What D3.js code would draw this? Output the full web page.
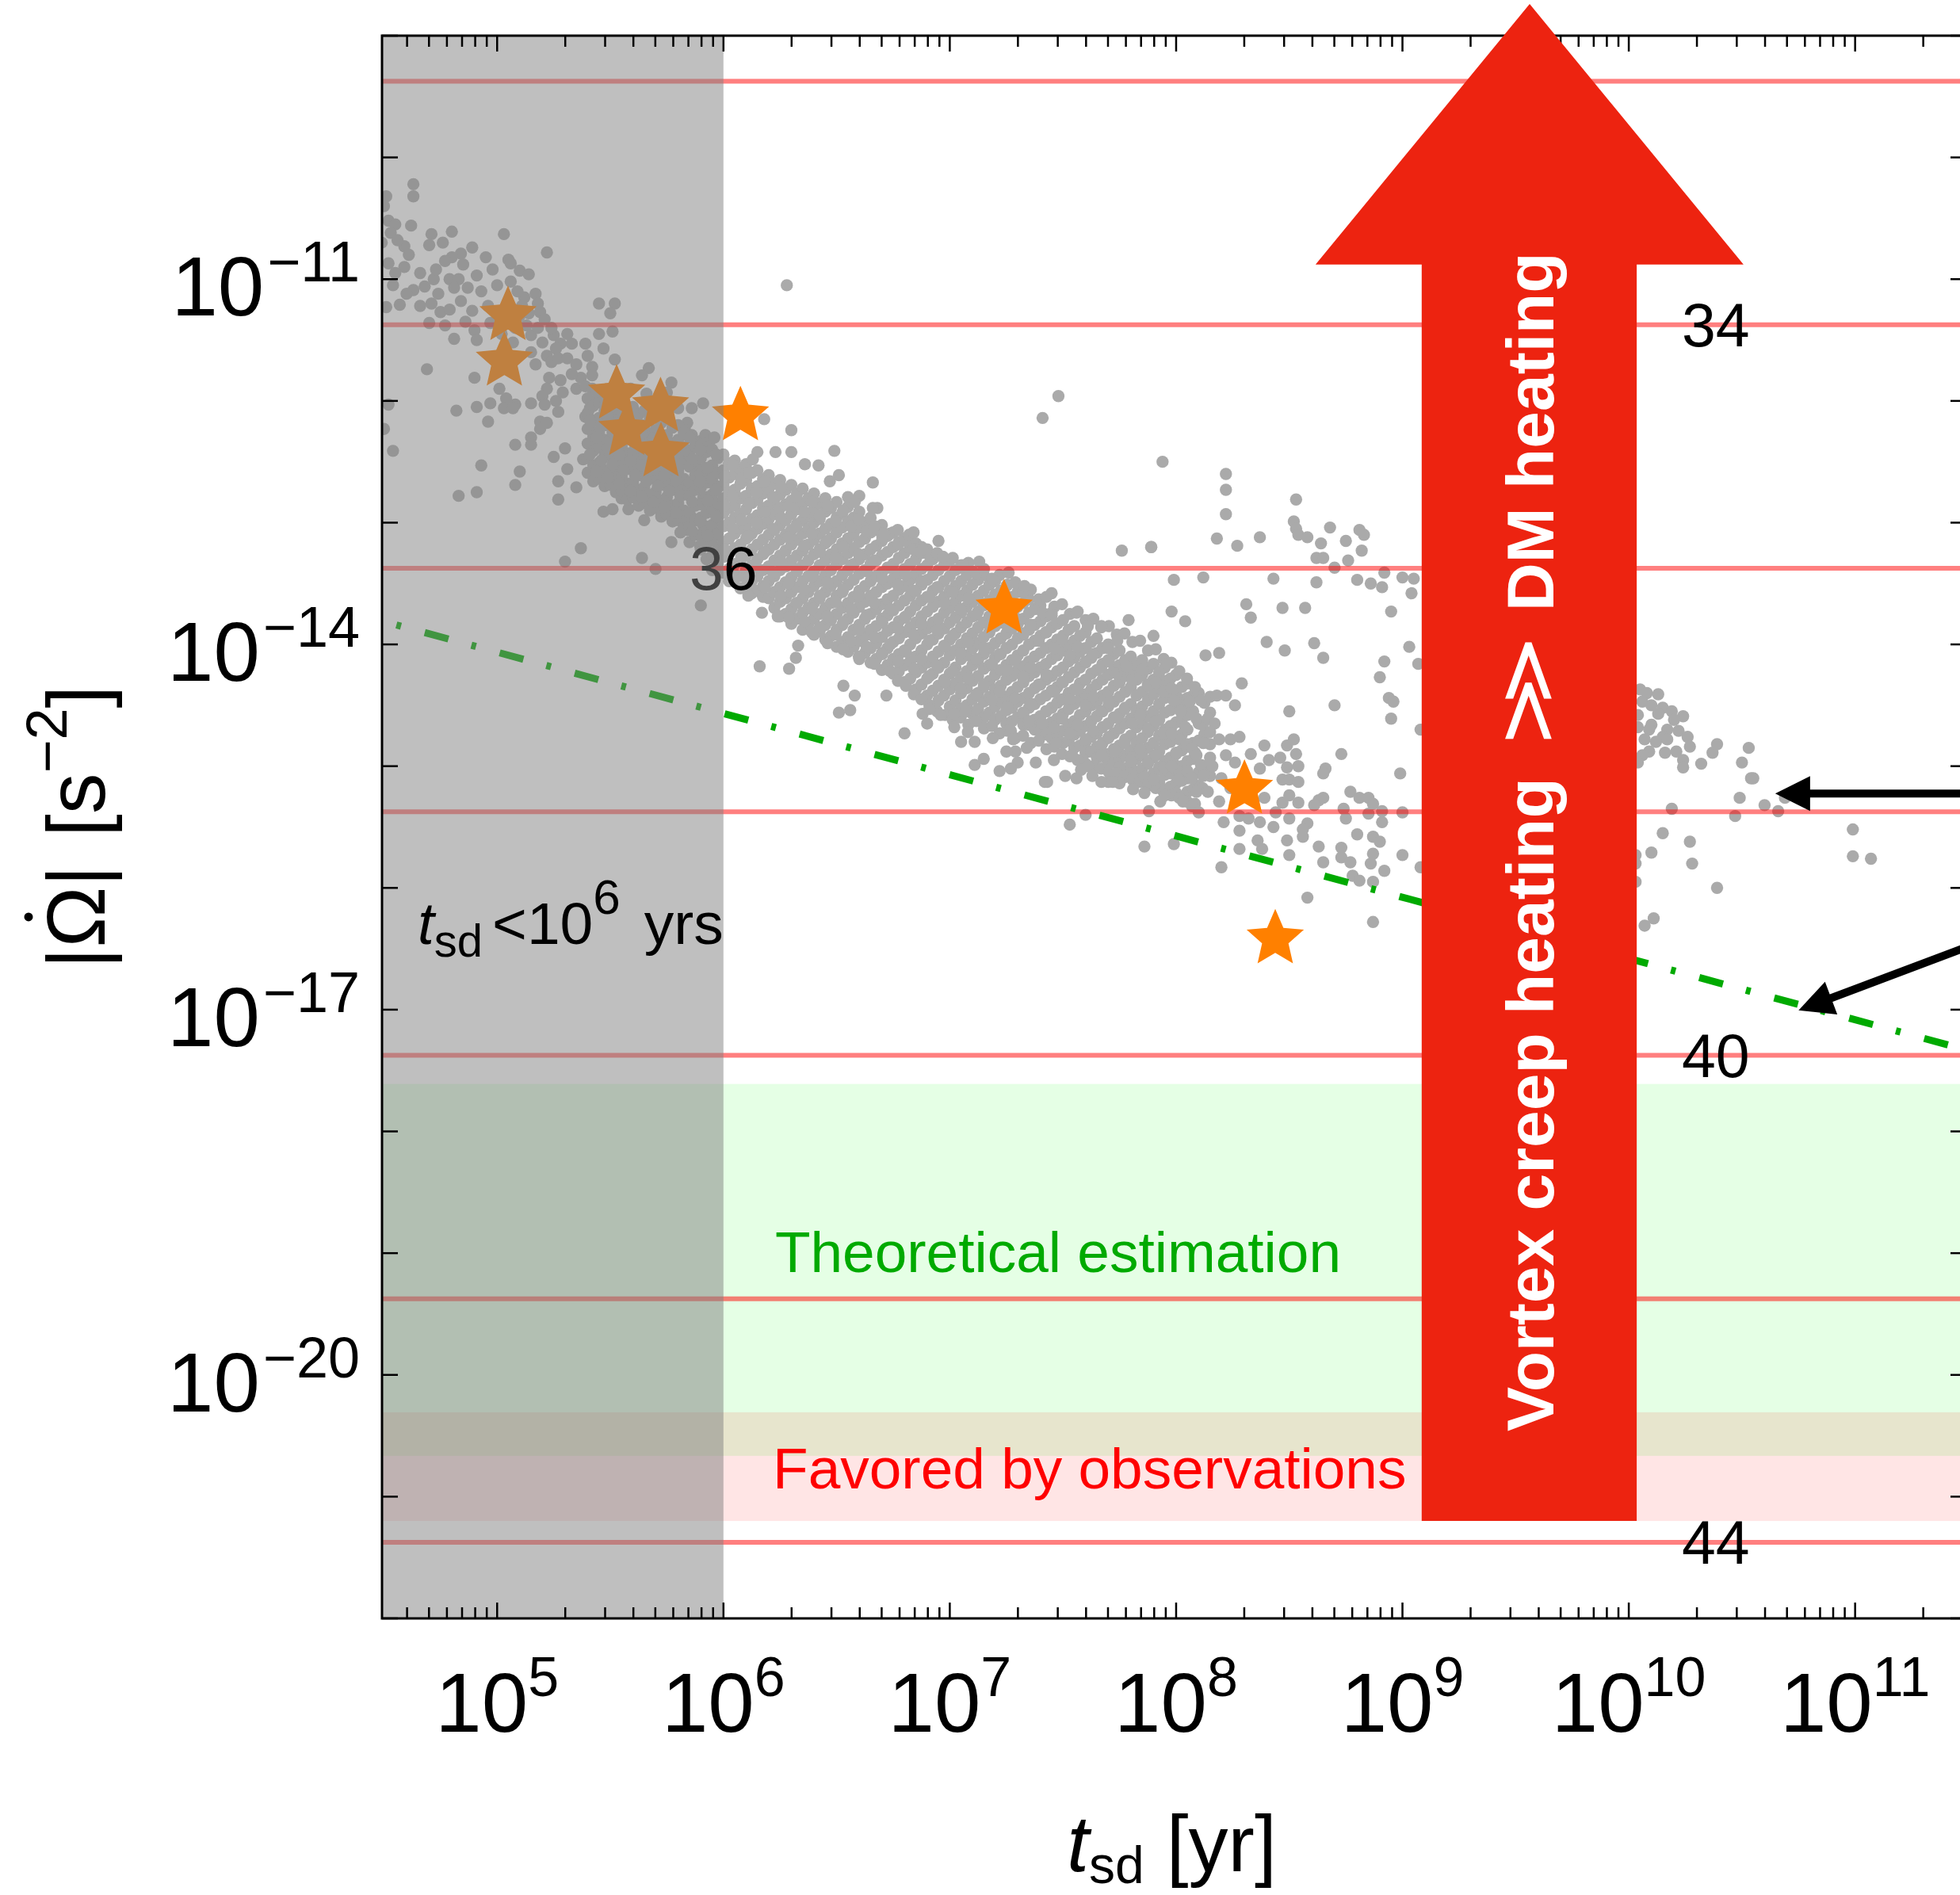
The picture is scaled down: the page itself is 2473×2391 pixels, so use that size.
<!DOCTYPE html>
<html><head><meta charset="utf-8">
<script src="https://cdn.jsdelivr.net/npm/d3@7"></script>
<style>html,body{margin:0;padding:0;background:#fff;}svg{display:block;font-family:"Liberation Sans",Arial,Helvetica,sans-serif;}</style>
</head><body>
<svg id="c" width="2473" height="2391"></svg>
<script>
// ===== DATA (log10 values: [log10 t_sd(yr), log10 |Omega-dot| (s^-2)]) =====
const xDomainLog=[4.4914,11.4914];
const yDomainLog=[-22,-9];
const xMajorExp=[5,6,7,8,9,10,11];
const yMajorExp=[-22,-21,-20,-19,-18,-17,-16,-15,-14,-13,-12,-11,-10,-9];
const yLabelExp=[-20,-17,-14,-11];
const lineLevelLog=[-9.375,-11.375,-13.375,-15.375,-17.375,-19.375,-21.375];
const lineLabelText=["34","36","40","44"];
const lineLabelLevelIdx=[1,2,4,6];
const lineLabelLogT=[10.384,6.0,10.384,10.384];
const greenBandLog=[-20.665,-17.61];
const pinkBandLog=[-21.20,-20.307];
const shadeMaxLogT=6;
const greenLineLog=[[4.555,-13.84],[11.6,-17.385]];
const starsLog=[[5.048,-11.30],[5.032,-11.674],[5.528,-11.944],[5.573,-12.243],[5.722,-12.048],[5.724,-12.419],[6.075,-12.123],[7.24,-13.71],[8.302,-15.19],[8.438,-16.42]];
const bigArrowLog={shaftL:9.085,shaftR:10.035,headL:8.616,headR:10.507,tipT:9.562,tipO:-8.74,baseO:-10.88,bottomO:-21.20};
const blackArrowsLog=[{tail:[11.9,-15.225],tip:[10.647,-15.225]},{tail:[11.9,-16.20],tip:[10.75,-17.006]}];

const leftPts=[[4.63,-10.22],[4.63,-10.32],[4.51,-10.32],[4.50,-10.40],[4.52,-10.52],[4.55,-10.55],[4.62,-10.56],[4.71,-10.63],[4.80,-10.61],[5.03,-10.63],[5.22,-10.78],[4.70,-10.72],[4.59,-10.73],[4.61,-10.80],[4.89,-10.74],[4.84,-10.79],[4.80,-10.82],[4.77,-10.85],[4.95,-10.82],[5.05,-10.84],[5.06,-10.87],[4.98,-10.92],[5.10,-10.93],[5.14,-10.96],[4.52,-10.87],[4.59,-10.90],[4.72,-11.00],[4.79,-11.00],[4.83,-11.00],[4.81,-11.07],[4.91,-10.97],[5.06,-11.02],[5.17,-11.12],[5.18,-11.20],[5.19,-11.27],[4.63,-11.09],[4.71,-11.20],[4.84,-11.18],[4.75,-11.27],[4.79,-11.25],[4.51,-11.23],[4.57,-11.21],[4.70,-11.36],[4.77,-11.38],[4.81,-11.49],[4.90,-11.42],[4.91,-11.50],[4.97,-11.36],[5.13,-11.38],[5.15,-11.46],[5.18,-11.40],[5.25,-11.46],[5.28,-11.53],[5.31,-11.45],[5.33,-11.53],[5.39,-11.53],[5.45,-11.20],[5.52,-11.20],[5.50,-11.28],[5.45,-11.45],[5.51,-11.43],[5.47,-11.57],[5.52,-11.66],[5.26,-11.57],[5.22,-11.63],[5.15,-11.60],[5.17,-11.70],[5.24,-11.68],[5.27,-11.65],[5.31,-11.65],[5.35,-11.70],[5.40,-11.63],[5.42,-11.72],[5.42,-11.79],[5.37,-11.81],[5.33,-11.78],[5.28,-11.83],[5.23,-11.81],[5.22,-11.90],[5.20,-11.96],[5.15,-12.02],[5.21,-12.03],[5.26,-12.00],[5.29,-11.93],[5.35,-11.90],[5.39,-11.88],[5.43,-12.00],[5.47,-12.03],[5.41,-12.06],[5.39,-12.13],[5.27,-12.09],[5.19,-12.17],[5.19,-12.23],[5.22,-12.18],[5.08,-12.03],[5.04,-11.98],[5.03,-12.06],[5.01,-11.90],[4.97,-12.02],[4.91,-12.05],[4.90,-11.81],[4.96,-12.17],[5.07,-12.06],[4.82,-12.08],[4.69,-11.74],[4.52,-12.03],[4.50,-12.23],[4.54,-12.41],[4.93,-12.53],[4.83,-12.78],[4.91,-12.75],[5.08,-12.69],[5.08,-12.36],[5.15,-12.30],[5.15,-12.36],[5.10,-12.58],[5.27,-12.81],[5.27,-12.66],[5.30,-12.39],[5.25,-12.46],[5.31,-12.56],[5.35,-12.71],[5.37,-13.21],[5.30,-13.32],[5.38,-12.48],[5.41,-12.36],[5.41,-12.23],[5.44,-12.26],[5.44,-12.36],[5.48,-12.33],[5.48,-12.43],[5.47,-12.91],[5.51,-12.89],[5.55,-12.80],[5.58,-12.89],[5.53,-12.56],[5.57,-12.53],[5.62,-12.46],[5.65,-12.98],[5.64,-12.73],[5.65,-12.83],[5.71,-12.83],[5.64,-13.29],[5.70,-13.38],[5.77,-13.16],[5.90,-13.68],[5.84,-13.06],[5.86,-12.96],[5.91,-13.02],[5.91,-12.80],[5.88,-12.68],[5.84,-12.76],[5.80,-12.56],[5.77,-12.68],[5.77,-12.73],[5.88,-12.53],[5.93,-12.60],[5.96,-12.69],[5.95,-13.06],[5.98,-12.93],[5.90,-12.33],[5.86,-12.28],[5.92,-12.28],[5.94,-12.33],[5.96,-12.30],[5.91,-12.02],[5.86,-12.06],[5.84,-12.18],[5.77,-11.85],[5.67,-11.73],[5.64,-11.79],[5.59,-11.90],[5.66,-11.94],[5.75,-11.93],[5.80,-12.06],[5.83,-12.24],[5.69,-12.13],[5.64,-12.20],[5.60,-12.26],[5.56,-12.30],[5.55,-12.20],[5.51,-12.17],[5.52,-12.06],[5.46,-11.96],[5.42,-11.90],[4.53,-10.62],[4.56,-10.68],[4.49,-10.70],[4.55,-10.95],[4.54,-11.05],[4.60,-11.12],[4.66,-10.95],[4.68,-11.06],[4.74,-11.12],[4.66,-11.22],[4.73,-10.92],[4.76,-10.70],[4.85,-10.88],[4.87,-11.07],[4.93,-11.10],[4.89,-11.26],[4.96,-11.22],[5.00,-11.30],[4.86,-11.35],[5.02,-11.45],[5.07,-11.52],[5.10,-11.30],[5.12,-11.15],[5.00,-11.05],[5.09,-11.10],[5.11,-11.22],[5.14,-11.28],[5.21,-11.33],[5.24,-11.40],[5.08,-11.40],[5.20,-11.52]];

const fillCols=[[5.400,[-11.98,-12.10,-12.23,-12.35,-12.47,-12.59]],[5.425,[-12.04,-12.16,-12.29,-12.41,-12.53,-12.66]],[5.450,[-12.01,-12.14,-12.26,-12.38,-12.51,-12.64]],[5.475,[-11.98,-12.08,-12.20,-12.32,-12.45,-12.57,-12.70]],[5.500,[-11.95,-12.07,-12.19,-12.32,-12.44,-12.57,-12.69]],[5.525,[-12.01,-12.13,-12.25,-12.38,-12.50,-12.63,-12.75]],[5.550,[-12.00,-12.12,-12.24,-12.37,-12.49,-12.62,-12.74]],[5.575,[-12.06,-12.18,-12.31,-12.43,-12.56,-12.68,-12.81]],[5.600,[-12.05,-12.17,-12.29,-12.42,-12.54,-12.67,-12.79]],[5.625,[-12.11,-12.23,-12.36,-12.48,-12.61,-12.73,-12.86]],[5.650,[-12.08,-12.20,-12.33,-12.45,-12.58,-12.71,-12.84]],[5.675,[-12.14,-12.27,-12.39,-12.52,-12.64,-12.77,-12.90]],[5.700,[-12.12,-12.24,-12.37,-12.50,-12.62,-12.75,-12.88]],[5.725,[-12.18,-12.31,-12.43,-12.56,-12.69,-12.82,-12.95]],[5.750,[-12.15,-12.28,-12.41,-12.54,-12.66,-12.79,-12.93]],[5.775,[-12.22,-12.35,-12.47,-12.60,-12.73,-12.86,-12.99]],[5.800,[-12.20,-12.32,-12.45,-12.58,-12.71,-12.84,-12.98]],[5.825,[-12.26,-12.38,-12.51,-12.64,-12.77,-12.90,-13.04]],
[5.41,[-12.16,-12.44]],[5.44,[-11.92,-12.30,-12.58]],[5.46,[-12.20,-12.49]],[5.49,[-12.13,-12.39,-12.63]],[5.51,[-12.26,-12.52]],[5.54,[-12.18,-12.44,-12.68]],[5.56,[-12.31,-12.57]],[5.59,[-12.23,-12.49,-12.74]],[5.61,[-12.36,-12.61]],[5.64,[-12.27,-12.53,-12.79]],[5.66,[-12.40,-12.66]],[5.69,[-12.31,-12.57,-12.83]],[5.71,[-12.44,-12.70]],[5.74,[-12.35,-12.61,-12.87]],[5.76,[-12.48,-12.74]],[5.79,[-12.39,-12.65,-12.92]],[5.81,[-12.52,-12.78,-13.08]],[5.84,[-12.43,-12.69,-12.97]]];

const coreCols=[[5.85,[-12.30,-12.43,-12.54,-12.67,-12.78,-12.92,-13.03,-13.16]],[5.875,[-12.37,-12.49,-12.61,-12.73,-12.86,-12.98,-13.10]],[5.90,[-12.36,-12.47,-12.60,-12.71,-12.85,-12.96,-13.10,-13.22]],[5.925,[-12.42,-12.55,-12.67,-12.79,-12.92,-13.05,-13.18,-13.30]],[5.95,[-12.40,-12.53,-12.64,-12.77,-12.88,-13.02,-13.14,-13.27,-13.39]],[5.975,[-12.47,-12.59,-12.71,-12.84,-12.96,-13.09,-13.21,-13.34]],[6.00,[-12.44,-12.57,-12.69,-12.80,-12.92,-13.03,-13.16,-13.28,-13.41]],[6.025,[-12.51,-12.63,-12.75,-12.88,-13.00,-13.13,-13.25,-13.38,-13.48]],[6.05,[-12.49,-12.60,-12.73,-12.86,-12.96,-13.09,-13.21,-13.34,-13.46]],[6.075,[-12.56,-12.68,-12.80,-12.93,-13.05,-13.18,-13.31,-13.44,-13.54]],[6.10,[-12.52,-12.65,-12.78,-12.89,-13.02,-13.13,-13.27,-13.38,-13.52]],[6.125,[-12.59,-12.72,-12.84,-12.97,-13.09,-13.22,-13.35,-13.48,-13.58]],[6.15,[-12.57,-12.70,-12.81,-12.94,-13.05,-13.18,-13.30,-13.44,-13.56]],[6.175,[-12.64,-12.76,-12.88,-13.01,-13.14,-13.26,-13.39,-13.52,-13.61]],[6.20,[-12.61,-12.72,-12.86,-12.97,-13.10,-13.22,-13.36,-13.48,-13.62]],[6.225,[-12.68,-12.81,-12.93,-13.06,-13.18,-13.31,-13.44,-13.57,-13.70]],[6.25,[-12.65,-12.77,-12.88,-13.02,-13.14,-13.27,-13.39,-13.53,-13.65,-13.77]],[6.275,[-12.73,-12.85,-12.98,-13.10,-13.23,-13.36,-13.49,-13.62,-13.75]],[6.30,[-12.69,-12.82,-12.93,-13.06,-13.18,-13.31,-13.45,-13.57,-13.71,-13.83]],[6.325,[-12.76,-12.89,-13.01,-13.14,-13.27,-13.40,-13.53,-13.66,-13.79]],[6.35,[-12.72,-12.84,-12.98,-13.09,-13.23,-13.35,-13.48,-13.62,-13.74,-13.88]],[6.375,[-12.80,-12.93,-13.05,-13.18,-13.31,-13.44,-13.57,-13.70,-13.83]],[6.40,[-12.76,-12.89,-13.00,-13.14,-13.26,-13.40,-13.52,-13.66,-13.79,-13.92]],[6.425,[-12.84,-12.97,-13.09,-13.22,-13.35,-13.48,-13.62,-13.75,-13.89]],[6.45,[-12.80,-12.91,-13.05,-13.17,-13.31,-13.43,-13.57,-13.70,-13.84,-13.96]],[6.475,[-12.88,-13.01,-13.13,-13.26,-13.39,-13.52,-13.66,-13.80,-13.93]],[6.50,[-12.83,-12.96,-13.08,-13.22,-13.34,-13.48,-13.60,-13.75,-13.88,-14.02]],[6.525,[-12.92,-13.04,-13.17,-13.30,-13.43,-13.57,-13.70,-13.84,-13.98]],[6.55,[-12.87,-12.99,-13.13,-13.25,-13.39,-13.51,-13.66,-13.79,-13.94,-14.06]],[6.575,[-12.96,-13.09,-13.21,-13.34,-13.47,-13.61,-13.74,-13.88,-14.02]],[6.60,[-12.91,-13.04,-13.16,-13.30,-13.42,-13.56,-13.69,-13.84,-13.97,-14.12]],[6.625,[-13.00,-13.13,-13.26,-13.39,-13.52,-13.65,-13.79,-13.93,-14.07]],[6.65,[-12.96,-13.08,-13.22,-13.34,-13.48,-13.60,-13.75,-13.88,-14.03,-14.15]],[6.675,[-13.06,-13.19,-13.31,-13.44,-13.57,-13.71,-13.85,-13.99,-14.12]],[6.70,[-13.02,-13.15,-13.27,-13.41,-13.53,-13.67,-13.79,-13.94,-14.07,-14.21]],[6.725,[-13.11,-13.24,-13.37,-13.50,-13.63,-13.76,-13.89,-14.03,-14.17]],[6.75,[-13.08,-13.20,-13.34,-13.46,-13.60,-13.72,-13.86,-13.98,-14.12,-14.24]],[6.775,[-13.16,-13.29,-13.42,-13.55,-13.68,-13.81,-13.95,-14.08,-14.22]],[6.80,[-13.13,-13.25,-13.38,-13.52,-13.64,-13.78,-13.90,-14.05,-14.17,-14.31]],[6.825,[-13.21,-13.34,-13.47,-13.60,-13.73,-13.86,-14.00,-14.14,-14.28]],[6.85,[-13.17,-13.30,-13.42,-13.56,-13.68,-13.82,-13.95,-14.10,-14.23,-14.37]],[6.875,[-13.25,-13.38,-13.51,-13.64,-13.77,-13.91,-14.05,-14.19,-14.33]],[6.90,[-13.22,-13.35,-13.47,-13.61,-13.73,-13.87,-14.00,-14.15,-14.28,-14.42]],[6.925,[-13.30,-13.43,-13.56,-13.69,-13.82,-13.96,-14.10,-14.24,-14.38]],[6.95,[-13.27,-13.39,-13.53,-13.65,-13.79,-13.91,-14.06,-14.19,-14.34,-14.46]],[6.975,[-13.35,-13.48,-13.61,-13.74,-13.87,-14.01,-14.15,-14.29,-14.42]],[7.00,[-13.31,-13.44,-13.56,-13.70,-13.82,-13.96,-14.09,-14.24,-14.37,-14.51]],[7.025,[-13.39,-13.52,-13.65,-13.78,-13.91,-14.05,-14.19,-14.32,-14.46]],[7.05,[-13.35,-13.48,-13.60,-13.74,-13.86,-14.00,-14.12,-14.27,-14.40,-14.53]],[7.075,[-13.43,-13.56,-13.69,-13.82,-13.95,-14.09,-14.22,-14.36,-14.50]],[7.10,[-13.40,-13.51,-13.65,-13.77,-13.91,-14.03,-14.17,-14.30,-14.45,-14.57]],[7.125,[-13.47,-13.60,-13.73,-13.86,-13.99,-14.13,-14.26,-14.40,-14.53]],[7.15,[-13.43,-13.56,-13.68,-13.82,-13.94,-14.08,-14.20,-14.35,-14.47,-14.60]],[7.175,[-13.51,-13.64,-13.77,-13.90,-14.03,-14.17,-14.30,-14.43,-14.56]],[7.20,[-13.48,-13.59,-13.73,-13.85,-13.99,-14.11,-14.25,-14.37,-14.51,-14.62]],[7.225,[-13.56,-13.69,-13.82,-13.95,-14.08,-14.21,-14.34,-14.47,-14.59]],[7.25,[-13.52,-13.65,-13.77,-13.91,-14.03,-14.17,-14.29,-14.43,-14.54,-14.65]],[7.275,[-13.61,-13.74,-13.87,-14.00,-14.13,-14.26,-14.39,-14.52,-14.63]],[7.30,[-13.57,-13.69,-13.83,-13.95,-14.09,-14.21,-14.35,-14.47,-14.60]],[7.325,[-13.66,-13.79,-13.92,-14.05,-14.18,-14.31,-14.44,-14.57,-14.66]],[7.35,[-13.63,-13.74,-13.88,-14.00,-14.14,-14.26,-14.40,-14.52,-14.66]],[7.375,[-13.71,-13.84,-13.97,-14.10,-14.23,-14.36,-14.49,-14.62,-14.70]],[7.40,[-13.68,-13.81,-13.93,-14.07,-14.19,-14.33,-14.45,-14.59,-14.71]],[7.425,[-13.77,-13.90,-14.03,-14.16,-14.29,-14.42,-14.55,-14.67,-14.74]],[7.45,[-13.74,-13.86,-14.00,-14.12,-14.26,-14.38,-14.52,-14.64,-14.77]],[7.475,[-13.83,-13.96,-14.09,-14.22,-14.35,-14.48,-14.61,-14.74]],[7.50,[-13.80,-13.93,-14.05,-14.19,-14.31,-14.45,-14.57,-14.71,-14.81]],[7.525,[-13.88,-14.01,-14.14,-14.27,-14.40,-14.53,-14.66,-14.79]],[7.55,[-13.85,-13.97,-14.11,-14.23,-14.37,-14.49,-14.63,-14.74,-14.85]],[7.575,[-13.93,-14.06,-14.19,-14.32,-14.45,-14.58,-14.71,-14.83]],[7.60,[-13.90,-14.03,-14.15,-14.29,-14.41,-14.55,-14.67,-14.80,-14.89]],[7.625,[-13.98,-14.11,-14.24,-14.37,-14.50,-14.63,-14.76,-14.88]],[7.65,[-13.95,-14.07,-14.21,-14.33,-14.47,-14.59,-14.73,-14.84,-14.93]],[7.675,[-14.03,-14.16,-14.29,-14.42,-14.55,-14.68,-14.81,-14.92]],[7.70,[-14.00,-14.13,-14.25,-14.39,-14.51,-14.65,-14.77,-14.90,-14.97]],[7.725,[-14.08,-14.21,-14.34,-14.47,-14.60,-14.73,-14.86,-14.97]],[7.75,[-14.05,-14.17,-14.31,-14.43,-14.57,-14.69,-14.83,-14.94,-15.01]],[7.775,[-14.13,-14.26,-14.39,-14.52,-14.65,-14.78,-14.91,-15.02]],[7.80,[-14.10,-14.23,-14.35,-14.49,-14.61,-14.75,-14.87,-15.00,-15.06]],[7.825,[-14.17,-14.29,-14.42,-14.55,-14.68,-14.81,-14.94,-15.06]],[7.85,[-14.13,-14.25,-14.39,-14.51,-14.65,-14.77,-14.91,-15.02,-15.11]],[7.875,[-14.20,-14.33,-14.46,-14.59,-14.72,-14.85,-14.98,-15.10]],[7.90,[-14.16,-14.29,-14.41,-14.55,-14.67,-14.81,-14.93,-15.06,-15.15]],[7.925,[-14.23,-14.36,-14.49,-14.62,-14.75,-14.88,-15.01,-15.13]],[7.95,[-14.19,-14.30,-14.44,-14.56,-14.70,-14.82,-14.96,-15.07,-15.19]],[7.975,[-14.28,-14.41,-14.54,-14.67,-14.80,-14.93,-15.06,-15.17]],[8.00,[-14.25,-14.38,-14.50,-14.64,-14.76,-14.90,-15.02,-15.14,-15.22]],[8.025,[-14.35,-14.48,-14.61,-14.74,-14.87,-15.00,-15.12]],[8.05,[-14.32,-14.44,-14.58,-14.70,-14.84,-14.96,-15.10,-15.21]],[8.075,[-14.42,-14.55,-14.81,-14.94,-15.19]],[8.10,[-14.40,-14.65,-14.79,-15.05,-15.16]],[8.125,[-14.48,-14.74,-15.00]],[8.15,[-14.56,-14.82,-15.08]]];

const extraCore=[[5.862,[-12.48,-12.83,-13.07]],[5.897,[-12.40,-12.66,-12.99,-13.19]],[5.931,[-12.55,-12.82,-13.11]],[5.968,[-12.44,-12.73,-12.95,-13.31]],[6.004,[-12.62,-12.86,-13.22]],[6.041,[-12.53,-12.79,-13.05,-13.40]],[6.078,[-12.64,-12.98,-13.27]],[6.112,[-12.59,-12.84,-13.11,-13.45]],[6.146,[-12.75,-13.00,-13.37]],[6.183,[-12.66,-12.91,-13.24,-13.53]],[6.219,[-12.79,-13.05,-13.41]],[6.254,[-12.71,-12.96,-13.32,-13.60]],[6.288,[-12.86,-13.12,-13.50,-13.78]],[6.322,[-12.79,-13.03,-13.38,-13.66]],[6.357,[-12.91,-13.19,-13.55,-13.81]],[6.391,[-12.83,-13.09,-13.44,-13.71,-13.90]],[6.426,[-12.95,-13.24,-13.60,-13.86]],[6.460,[-12.86,-13.15,-13.49,-13.77,-13.99]],[6.495,[-12.99,-13.29,-13.65,-13.92]],[6.529,[-12.90,-13.20,-13.55,-13.82,-14.04]],[6.564,[-13.03,-13.35,-13.71,-13.97]],[6.598,[-12.97,-13.26,-13.60,-13.88,-14.10]],[6.633,[-13.07,-13.40,-13.76,-14.02]],[6.667,[-13.03,-13.31,-13.66,-13.94,-14.16]],[6.702,[-13.12,-13.46,-13.82,-14.08]],[6.737,[-13.09,-13.37,-13.71,-14.00,-14.22]],[6.771,[-13.18,-13.51,-13.87,-14.14,-14.30]],[6.806,[-13.15,-13.43,-13.77,-14.06,-14.34]],[6.841,[-13.22,-13.56,-13.92,-14.20,-14.41]],[6.875,[-13.20,-13.48,-13.83,-14.12,-14.45]],[6.910,[-13.27,-13.61,-13.97,-14.26,-14.50]],[6.944,[-13.25,-13.53,-13.88,-14.17,-14.55]],[6.979,[-13.32,-13.66,-14.02,-14.31,-14.58]],[7.013,[-13.29,-13.57,-13.93,-14.22,-14.62]],[7.048,[-13.37,-13.71,-14.07,-14.36,-14.60]],[7.082,[-13.33,-13.62,-13.98,-14.28,-14.66]],[7.117,[-13.42,-13.76,-14.12,-14.41,-14.63]],[7.151,[-13.38,-13.67,-14.03,-14.33,-14.69]],[7.186,[-13.46,-13.80,-14.16,-14.46,-14.67]],[7.220,[-13.43,-13.72,-14.08,-14.39,-14.73]],[7.255,[-13.51,-13.85,-14.21,-14.51,-14.71]],[7.289,[-13.49,-13.78,-14.13,-14.44,-14.77]],[7.324,[-13.57,-13.91,-14.27,-14.56,-14.75]],[7.358,[-13.55,-13.84,-14.19,-14.49,-14.81]],[7.393,[-13.63,-13.97,-14.33,-14.62,-14.79]],[7.427,[-13.61,-13.90,-14.25,-14.55,-14.86]],[7.462,[-13.69,-14.03,-14.39,-14.68,-14.84]],[7.496,[-13.67,-13.96,-14.31,-14.61,-14.90]],[7.531,[-13.75,-14.09,-14.45,-14.73,-14.92]],[7.565,[-13.73,-14.02,-14.37,-14.66,-14.95]],[7.600,[-13.80,-14.14,-14.50,-14.78,-14.98]],[7.634,[-13.79,-14.08,-14.43,-14.71,-15.00]],[7.669,[-13.86,-14.19,-14.55,-14.83,-15.02]],[7.703,[-13.85,-14.14,-14.48,-14.76,-15.05]],[7.738,[-13.92,-14.24,-14.60,-14.88,-15.06]],[7.772,[-13.91,-14.20,-14.53,-14.81,-15.09]],[7.807,[-13.98,-14.29,-14.65,-14.93,-15.11]],[7.841,[-13.97,-14.26,-14.58,-14.86,-15.13]],[7.876,[-14.05,-14.34,-14.69,-14.97,-15.16]],[7.910,[-14.04,-14.31,-14.63,-14.91,-15.18]],[7.945,[-14.12,-14.39,-14.73,-15.01,-15.21]],[7.979,[-14.15,-14.36,-14.68,-14.96,-15.24]],[8.014,[-14.22,-14.45,-14.78,-15.05,-15.26]],[8.048,[-14.28,-14.50,-14.82,-15.08,-15.29]],[8.083,[-14.35,-14.89,-15.31]],[8.117,[-14.66,-15.18]]];

const edgePts=[[7.48,-11.96],[7.41,-12.14],[7.94,-12.50],[7.76,-13.23],[7.89,-13.20],[7.99,-13.47],[7.98,-13.73],[7.79,-13.80],[7.90,-13.93],[7.45,-13.58],[6.95,-13.15],[6.66,-12.67],[6.49,-12.41],[6.30,-12.24],[6.18,-12.15],[6.16,-14.18],[6.33,-14.01],[6.32,-14.11],[6.29,-14.20],[6.17,-13.74],[6.11,-13.60],[6.24,-13.77],[6.51,-14.56],[6.56,-14.54],[6.58,-14.42],[6.53,-14.34],[6.80,-14.73],[6.72,-14.42],[7.11,-14.99],[7.15,-14.94],[7.22,-15.04],[7.05,-14.80],[7.11,-14.80],[7.30,-14.97],[7.43,-15.13],[7.51,-15.08],[7.56,-15.10],[7.29,-14.88],[6.36,-12.52],[6.42,-12.53],[6.51,-12.61],[6.60,-12.78],[6.68,-12.88],[6.77,-13.06],[6.82,-13.10],[6.97,-13.28],[7.06,-13.35],[7.26,-13.41],[7.19,-13.47],[7.41,-13.74],[7.45,-13.76],[7.61,-13.85],[7.67,-13.85],[7.70,-14.03],[7.78,-14.18],[7.85,-14.21],[7.96,-14.16],[8.05,-14.46],[6.88,-14.57],[6.91,-14.53],[6.96,-14.58],[7.02,-14.57],[7.07,-14.55],[6.90,-14.65],[7.41,-14.65],[7.35,-14.63],[7.47,-14.81],[7.54,-14.91],[7.61,-15.00],[7.67,-14.91],[7.73,-14.87],[7.80,-14.96],[7.70,-15.13],[7.75,-15.14],[7.86,-15.09],[7.99,-14.98],[7.27,-15.02],[7.27,-14.71],[7.28,-14.78],[7.42,-15.13],[7.67,-15.13],[7.72,-15.13],[7.81,-15.19],[7.88,-15.13],[7.53,-15.48],[7.60,-15.40],[6.28,-11.05],[6.15,-12.42],[6.23,-12.42],[6.30,-12.42],[6.13,-12.48],[6.47,-12.66],[6.55,-12.79],[6.66,-12.88],[6.71,-13.09],[6.88,-13.22],[7.02,-14.68],[7.08,-14.72],[7.19,-14.77],[7.25,-14.88],[7.34,-14.85],[7.38,-14.97],[7.46,-14.95],[7.58,-15.03],[7.63,-15.08],[6.58,-12.83],[6.84,-13.08],[7.13,-13.32],[7.33,-13.52],[7.56,-13.74],[7.74,-13.97]];

const upperPts=[[8.22,-12.60],[8.22,-12.73],[8.22,-12.93],[8.18,-13.13],[8.27,-13.19],[8.37,-13.12],[7.89,-13.20],[8.53,-12.81],[8.52,-12.99],[8.53,-13.05],[8.54,-13.10],[8.58,-13.12],[8.68,-13.04],[8.64,-13.17],[8.62,-13.29],[8.65,-13.29],[8.75,-13.15],[8.81,-13.06],[8.83,-13.10],[8.82,-13.23],[8.76,-13.31],[8.70,-13.37],[8.92,-13.41],[8.91,-13.53],[8.86,-13.50],[8.80,-13.47],[8.62,-13.49],[8.43,-13.46],[8.12,-13.45],[9.00,-13.45],[9.05,-13.46],[9.04,-13.58],[8.95,-13.73],[8.31,-13.67],[8.33,-13.78],[8.47,-13.70],[8.57,-13.70],[8.04,-13.81],[8.40,-13.98],[8.48,-14.05],[8.61,-13.99],[8.65,-14.11],[9.03,-14.02],[8.92,-14.14],[8.90,-14.27],[8.13,-14.09],[8.19,-14.07],[8.94,-14.44],[8.96,-14.47],[8.95,-14.61],[8.70,-14.50],[8.50,-14.55],[8.29,-14.32],[8.73,-14.90],[8.99,-15.06],[8.66,-15.02],[8.65,-15.06],[9.07,-14.16],[9.08,-14.70]];

const midPts=[[7.99,-14.46],[8.06,-14.47],[8.11,-14.46],[8.15,-14.43],[8.18,-14.42],[8.22,-14.42],[8.26,-14.50],[8.02,-14.55],[8.09,-14.61],[8.14,-14.61],[8.17,-14.65],[8.15,-14.72],[8.04,-14.68],[7.98,-14.73],[8.19,-14.78],[8.24,-14.78],[8.28,-14.76],[8.12,-14.81],[8.07,-14.85],[8.00,-14.89],[8.09,-14.91],[8.15,-14.93],[8.22,-14.91],[7.98,-15.00],[8.05,-15.04],[8.11,-14.99],[8.16,-15.00],[8.01,-15.11],[8.07,-15.10],[8.12,-15.08],[8.09,-15.21],[8.14,-15.21],[8.19,-15.29],[8.03,-15.29],[8.07,-15.33],[8.10,-15.38],[7.93,-15.29],[7.95,-15.24],[7.86,-15.22],[7.90,-15.11],[7.88,-15.37]];

const rightLowPts=[[8.39,-14.83],[8.41,-14.95],[8.46,-14.93],[8.49,-14.83],[8.52,-14.78],[8.53,-14.90],[8.49,-15.01],[8.54,-15.00],[8.37,-15.02],[8.47,-15.11],[8.50,-15.11],[8.54,-15.13],[8.39,-15.26],[8.47,-15.30],[8.50,-15.24],[8.54,-15.30],[8.63,-15.28],[8.65,-15.26],[8.61,-15.32],[8.77,-15.21],[8.81,-15.26],[8.85,-15.26],[8.87,-15.31],[8.74,-15.35],[8.75,-15.43],[8.91,-15.37],[8.91,-15.46],[8.85,-15.39],[8.80,-15.56],[8.87,-15.58],[8.90,-15.62],[8.73,-15.67],[8.73,-15.75],[8.77,-15.79],[8.65,-15.79],[8.63,-15.66],[8.87,-15.72],[8.86,-15.80],[8.92,-15.86],[8.78,-15.90],[8.87,-15.95],[8.81,-15.94],[9.00,-15.73],[8.58,-15.47],[8.56,-15.52],[8.56,-15.58],[8.49,-15.61],[8.50,-15.73],[8.36,-15.61],[8.38,-15.68],[8.28,-15.68],[8.28,-15.53],[8.21,-15.46],[8.28,-15.41],[8.32,-15.43],[8.37,-15.46],[8.43,-15.50],[8.50,-15.43],[8.44,-15.38],[8.20,-15.83],[7.99,-15.64],[7.86,-15.66],[8.58,-16.08],[8.87,-16.28],[9.08,-15.83],[9.00,-15.38],[8.20,-15.10],[8.24,-15.18],[8.31,-15.22],[8.26,-14.97],[8.33,-14.90]];

const rightCluster=[[10.05,-14.37],[10.08,-14.40],[10.13,-14.41],[10.06,-14.47],[10.10,-14.50],[10.15,-14.52],[10.19,-14.55],[10.24,-14.59],[10.04,-14.58],[10.13,-14.57],[10.20,-14.62],[10.10,-14.66],[10.09,-14.70],[10.04,-14.68],[10.17,-14.70],[10.22,-14.71],[10.26,-14.76],[10.15,-14.76],[10.17,-14.78],[10.07,-14.78],[10.12,-14.80],[10.27,-14.84],[10.09,-14.88],[10.06,-14.91],[10.16,-14.89],[10.21,-14.88],[10.04,-14.97],[10.24,-14.95],[10.24,-15.01],[10.32,-14.98],[10.37,-14.89],[10.39,-14.82],[10.53,-14.85],[10.50,-14.97],[10.54,-15.10],[10.55,-15.10],[10.49,-15.26],[10.60,-15.32],[10.66,-15.37],[10.69,-15.26],[10.47,-15.41],[10.19,-15.35],[10.15,-15.55],[10.10,-15.71],[10.27,-15.62],[10.28,-15.80],[10.39,-16.00],[10.99,-15.52],[10.99,-15.74],[11.07,-15.76],[10.03,-15.73],[10.11,-16.25],[10.07,-16.31],[10.03,-15.80],[10.03,-15.95]];

// ===== CHART =====
const P={l:482,r:2481,t:45,b:2042};
const x=d3.scaleLog().domain(xDomainLog.map(v=>10**v)).range([P.l,P.r]);
const y=d3.scaleLog().domain(yDomainLog.map(v=>10**v)).range([P.b,P.t]);
const X=v=>x(10**v), Y=v=>y(10**v);
const svg=d3.select("#c");
svg.append("rect").attr("width",2473).attr("height",2391).attr("fill","#fff");
svg.append("defs").append("clipPath").attr("id","pc").append("rect")
  .attr("x",P.l).attr("y",P.t).attr("width",P.r-P.l).attr("height",P.b-P.t);
const g=svg.append("g").attr("clip-path","url(#pc)");

// bands
g.append("rect").attr("x",P.l).attr("width",P.r-P.l).attr("y",Y(greenBandLog[1])).attr("height",Y(greenBandLog[0])-Y(greenBandLog[1])).attr("fill","rgba(0,255,0,0.1)");
g.append("rect").attr("x",P.l).attr("width",P.r-P.l).attr("y",Y(pinkBandLog[1])).attr("height",Y(pinkBandLog[0])-Y(pinkBandLog[1])).attr("fill","rgba(255,0,0,0.1)");

// scatter
const cols2pts=cs=>cs.flatMap(c=>c[1].map(v=>[c[0],v]));
const allPts=[].concat(leftPts,cols2pts(fillCols),cols2pts(coreCols),cols2pts(extraCore),edgePts,upperPts,midPts,rightLowPts,rightCluster);
g.append("g").selectAll("circle").data(allPts).join("circle")
  .attr("cx",d=>X(d[0])).attr("cy",d=>Y(d[1])).attr("r",7.7).attr("fill","#aaaaaa");

// contour lines
g.append("g").selectAll("line").data(lineLevelLog).join("line")
  .attr("x1",P.l).attr("x2",P.r).attr("y1",d=>Y(d)).attr("y2",d=>Y(d))
  .attr("stroke","rgba(255,0,0,0.5)").attr("stroke-width",6);

// green dot-dashed line
g.append("path").datum(greenLineLog)
  .attr("d",d3.line().x(d=>X(d[0])).y(d=>Y(d[1])))
  .attr("fill","none").attr("stroke","#00aa00").attr("stroke-width",9)
  .attr("stroke-dasharray","6 31 31 30");

// stars
function starPath(R,r){const p=[];for(let i=0;i<10;i++){const a=-Math.PI/2+i*Math.PI/5,rr=i%2?r:R;p.push((rr*Math.cos(a)).toFixed(2)+","+(rr*Math.sin(a)).toFixed(2));}return "M"+p.join("L")+"Z";}
const sp=starPath(38,17.5);
g.append("g").selectAll("path").data(starsLog).join("path")
  .attr("d",sp).attr("transform",d=>`translate(${X(d[0])},${Y(d[1])})`).attr("fill","#ff8000");

// contour labels
lineLabelText.forEach((t,i)=>{
  g.append("text").attr("x",X(lineLabelLogT[i])).attr("y",Y(lineLevelLog[lineLabelLevelIdx[i]])+27)
   .attr("text-anchor","middle").attr("font-size",77).attr("fill","#000").text(t);
});

// shaded region t<1e6
g.append("rect").attr("x",P.l).attr("y",P.t).attr("width",X(shadeMaxLogT)-P.l).attr("height",P.b-P.t).attr("fill","rgba(128,128,128,0.5)");

// band texts
svg.append("text").attr("x",X(6.228)).attr("y",Y(-19.157)).attr("font-size",73).attr("fill","#00aa00").text("Theoretical estimation");
svg.append("text").attr("x",X(6.218)).attr("y",Y(-20.93)).attr("font-size",73).attr("fill","#ff0000").text("Favored by observations");

// t_sd < 10^6 yrs
const tt=svg.append("text").attr("x",X(4.649)).attr("y",Y(-16.46)).attr("font-size",75).attr("fill","#000");
tt.append("tspan").attr("font-style","italic").text("t");
tt.append("tspan").attr("font-size",58).attr("dy",16).text("sd");
tt.append("tspan").attr("dy",-16).attr("dx",12).text("<10");
tt.append("tspan").attr("font-size",62).attr("dy",-38).text("6");
tt.append("tspan").attr("dy",38).attr("dx",30).text("yrs");

// ===== AXES =====
const ax=svg.append("g").attr("stroke","#000");
const minorX=[];
for(let e=4;e<=11;e++)for(let k=2;k<=9;k++){const lv=e+Math.log10(k);if(lv>xDomainLog[0]&&lv<xDomainLog[1])minorX.push(lv);}
xMajorExp.forEach(e=>{
  ax.append("line").attr("x1",X(e)).attr("x2",X(e)).attr("y1",P.b).attr("y2",P.b-20).attr("stroke-width",2.5);
  ax.append("line").attr("x1",X(e)).attr("x2",X(e)).attr("y1",P.t).attr("y2",P.t+20).attr("stroke-width",2.5);
});
minorX.forEach(e=>{
  ax.append("line").attr("x1",X(e)).attr("x2",X(e)).attr("y1",P.b).attr("y2",P.b-14).attr("stroke-width",2.5);
  ax.append("line").attr("x1",X(e)).attr("x2",X(e)).attr("y1",P.t).attr("y2",P.t+14).attr("stroke-width",2.5);
});
yMajorExp.forEach(e=>{
  ax.append("line").attr("x1",P.l).attr("x2",P.l+20).attr("y1",Y(e)).attr("y2",Y(e)).attr("stroke-width",2.5);
  ax.append("line").attr("x1",P.r).attr("x2",P.r-20).attr("y1",Y(e)).attr("y2",Y(e)).attr("stroke-width",2.5);
});
ax.append("rect").attr("x",P.l).attr("y",P.t).attr("width",P.r-P.l).attr("height",P.b-P.t).attr("fill","none").attr("stroke-width",3);

// x tick labels
xMajorExp.forEach(e=>{
  const t=svg.append("text").attr("x",X(e)).attr("y",2185).attr("text-anchor","middle").attr("font-size",105);
  t.append("tspan").text("10");
  t.append("tspan").attr("font-size",70).attr("dy",-45).text(String(e));
});
// y tick labels
yLabelExp.forEach(e=>{
  const t=svg.append("text").attr("x",P.l-28).attr("y",Y(e)+46).attr("text-anchor","end").attr("font-size",105);
  t.append("tspan").text("10");
  t.append("tspan").attr("font-size",72).attr("dy",-43).attr("dx",4).text("\u2212"+String(-e));
});

// x title
const xt=svg.append("text").attr("x",(P.l+P.r)/2-3).attr("y",2361).attr("text-anchor","middle").attr("font-size",100);
xt.append("tspan").attr("font-style","italic").text("t");
xt.append("tspan").attr("font-size",66).attr("dy",15).text("sd");
xt.append("tspan").attr("dy",-15).attr("dx",28).text("[yr]");

// y title
const yg=svg.append("g").attr("transform",`translate(132,${(P.t+P.b)/2})rotate(-90)`);
const yt=yg.append("text").attr("x",0).attr("y",0).attr("text-anchor","middle").attr("font-size",103);
yt.append("tspan").text("|\u03A9|");
yt.append("tspan").attr("dx",36).text("[s");
yt.append("tspan").attr("font-size",72).attr("dy",-48).text("\u22122");
yt.append("tspan").attr("dy",48).text("]");
try{const s=yt.node().getStartPositionOfChar(1),en=yt.node().getEndPositionOfChar(1);
  yg.append("circle").attr("cx",(s.x+en.x)/2).attr("cy",-96).attr("r",5.5).attr("fill","#000");}catch(e){}

// ===== BIG RED ARROW =====
const A=bigArrowLog;
const arrowPts=[[A.shaftL,A.bottomO],[A.shaftL,A.baseO],[A.headL,A.baseO],[A.tipT,A.tipO],[A.headR,A.baseO],[A.shaftR,A.baseO],[A.shaftR,A.bottomO]];
svg.append("path").attr("d","M"+arrowPts.map(p=>X(p[0])+","+Y(p[1])).join("L")+"Z").attr("fill","#ed2310");
const cx=(X(A.shaftL)+X(A.shaftR))/2, bl=cx+31;
svg.append("text").attr("transform",`translate(${bl},1806)rotate(-90)`).attr("font-size",84).attr("font-weight","bold").attr("fill","#fff").text("Vortex creep heating");
svg.append("text").attr("transform",`translate(${bl},871)rotate(-90)scale(1.35,1)`).attr("text-anchor","middle").attr("font-size",100).attr("font-weight",200).attr("font-family","DejaVu Sans").attr("fill","#fff").text("\u226B");
svg.append("text").attr("transform",`translate(${bl},771)rotate(-90)`).attr("font-size",84).attr("font-weight","bold").attr("fill","#fff").text("DM heating");

// ===== BLACK ARROWS =====
blackArrowsLog.forEach(a=>{
  const x1=X(a.tail[0]),y1=Y(a.tail[1]),x2=X(a.tip[0]),y2=Y(a.tip[1]);
  const dx=x1-x2,dy=y1-y2,L=Math.hypot(dx,dy),ux=dx/L,uy=dy/L,hl=44,hw=22;
  const bx=x2+ux*hl,by=y2+uy*hl;
  svg.append("line").attr("x1",x1).attr("y1",y1).attr("x2",bx-ux*2).attr("y2",by-uy*2).attr("stroke","#000").attr("stroke-width",10);
  svg.append("path").attr("d",`M${x2},${y2}L${bx-uy*hw},${by+ux*hw}L${bx+uy*hw},${by-ux*hw}Z`).attr("fill","#000");
});
</script>
</body></html>
